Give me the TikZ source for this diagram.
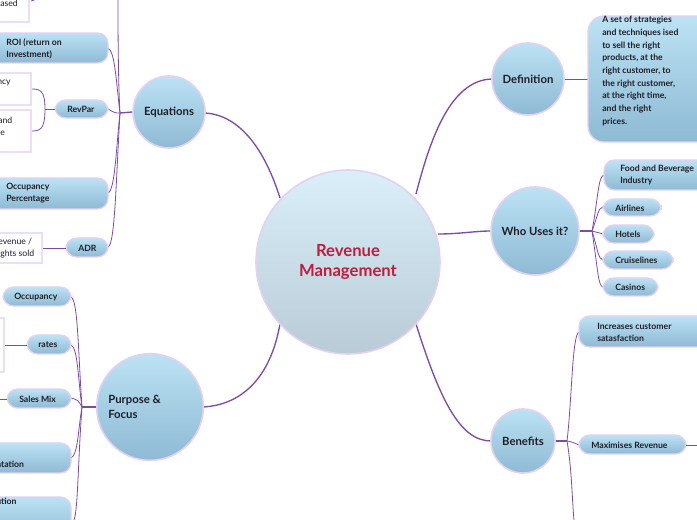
\documentclass[tikz,border=0pt]{standalone}
\usepackage{fontspec}
\setmainfont{Lato}
\definecolor{ctop}{RGB}{188,226,244}
\definecolor{cbot}{RGB}{142,186,212}
\definecolor{cbd}{RGB}{228,208,242}
\definecolor{cln}{RGB}{125,75,165}
\definecolor{ctx}{RGB}{30,30,40}
\definecolor{cred}{RGB}{190,30,60}
\tikzset{
 bub/.style={circle,draw=cbd,line width=1.2pt,top color=ctop,bottom color=cbot,text=ctx,font=\bfseries\fontsize{8.5}{10}\selectfont},
 pill/.style={rounded corners=8pt,draw=cbd,line width=1pt,top color=ctop,bottom color=cbot,text=ctx,font=\bfseries\fontsize{6.5}{9}\selectfont,align=left},
 wbox/.style={draw=cbd!70!white,line width=0.8pt,fill=white,text=ctx,font=\fontsize{6.5}{9}\selectfont,align=left},
 ln/.style={draw=cln,line width=0.6pt},
 lnb/.style={draw=cln,line width=1pt},
 txt/.style={text=ctx,font=\bfseries\fontsize{6.5}{9}\selectfont,align=left,anchor=west,inner sep=0}
}
\begin{document}
\begin{tikzpicture}[x=0.75pt,y=-0.75pt]
\useasboundingbox (0,0) rectangle (697,520);
\clip (0,0) rectangle (697,520);
% connectors from centre
\coordinate (c) at (348,262);
\draw[lnb] (c)++(-68,-64) .. controls (265,150) and (240,115) .. (205,113);
\draw[lnb] (c)++(68,-68) .. controls (430,140) and (450,80) .. (492,79);
\draw[lnb] (c)++(90,-28) .. controls (460,234) and (475,231) .. (491,231);
\draw[lnb] (c)++(-68,62) .. controls (270,380) and (240,405) .. (203,407);
\draw[lnb] (c)++(68,62) .. controls (440,400) and (460,441) .. (491,441);
% circles
\node[circle,draw=cbd,line width=1.2pt,top color=ctop!55!white,bottom color=gray!30!cbot!60!white,minimum size=184pt*0.75,font=\bfseries\fontsize{12.5}{15}\selectfont,text=cred,align=center] (rm) at (348,262) {Revenue\\Management};
\node[bub,minimum size=54pt] (eq) at (169,112) {Equations};
\node[bub,minimum size=54pt] (def) at (528,79) {Definition};
\node[bub,minimum size=66pt] (who) at (535,231) {Who Uses it?};
\node[bub,minimum size=80pt] (pur) at (150,407) {};
\node[txt,font=\bfseries\fontsize{8.5}{11}\selectfont] (purt) at (108,407) {Purpose \&\\Focus};
\node[bub,minimum size=48pt] (ben) at (523,441) {Benefits};
% Equations branch
\coordinate (ej) at (120,113);
\draw[lnb] (eq.west) -- (ej);
\draw[ln] (ej) .. controls (118,80) and (118,20) .. (118,0);
\draw[ln] (ej) .. controls (116,80) and (115,52) .. (108,48);
\draw[ln] (ej) .. controls (115,113) .. (108,109);
\draw[ln] (ej) .. controls (116,150) and (115,190) .. (108,193);
\draw[ln] (ej) .. controls (116,180) and (115,245) .. (108,247);
\draw[ln] (31,1) .. controls (35,0) .. (37,-5);
\draw[pill] (-20,33) rectangle (108,63);
\node[txt] (roi) at (6,49) {ROI (return on\\Investment)};
\draw[pill] (55,100) rectangle (108,118);
\node[txt] (rp) at (67,109) {RevPar};
\draw[ln] (55,109) -- (45,109);
\draw[ln] (45,109) .. controls (45,90) and (40,89) .. (31,89);
\draw[ln] (45,109) .. controls (45,130) and (40,131) .. (31,131);
\draw[wbox] (-10,-10) rectangle (29,22);
\node[txt,font=\fontsize{6.5}{9}\selectfont] (a1) at (0,3) {ased};
\draw[wbox] (-20,73) rectangle (31,105);
\node[txt,font=\fontsize{6.5}{9}\selectfont] (a2) at (-3,83) {ncy};
\draw[wbox] (-20,110) rectangle (31,152);
\node[txt,font=\fontsize{6.5}{9}\selectfont] (a3) at (-2,126) {and\\le};
\draw[pill] (-20,178) rectangle (108,209);
\node[txt] (occp) at (6,193) {Occupancy\\Percentage};
\draw[pill] (66,238) rectangle (108,257);
\node[txt] (adr) at (78,248) {ADR};
\draw[ln] (66,248) -- (42,248);
\draw[wbox] (-20,233) rectangle (42,263);
\node[txt,font=\fontsize{6.5}{9}\selectfont] (a4) at (-2,248) {evenue /\\ights sold};
% Purpose branch
\coordinate (pj) at (82,407);
\draw[lnb] (pur.west) -- (pj);
\draw[ln] (pj) .. controls (78,350) and (78,300) .. (71,297);
\draw[ln] (pj) .. controls (78,380) and (78,348) .. (71,345);
\draw[ln] (pj) .. controls (78,400) .. (71,398);
\draw[ln] (pj) .. controls (78,430) and (78,455) .. (71,458);
\draw[ln] (pj) .. controls (78,460) and (78,510) .. (74,520);
\draw[pill] (3,287) rectangle (71,306);
\node[txt] (o) at (14,297) {Occupancy};
\draw[pill] (27,335) rectangle (71,354);
\node[txt] (r) at (38,345) {rates};
\draw[ln] (27,345) -- (4,345);
\draw[wbox] (-20,318) rectangle (4,372);
\draw[pill] (7,389) rectangle (71,408);
\node[txt] (s) at (19,399) {Sales Mix};
\draw[ln] (7,399) -- (0,399);
\draw[pill] (-20,443) rectangle (71,473);
\node[txt] (seg) at (-4,464) {ntation};
\draw[pill] (-20,497) rectangle (71,540);
\node[txt] (dis) at (-4,507) {ution\\l};
% Definition branch
\draw[ln] (def.east) -- (588,79);
\draw[pill,rounded corners=12pt] (588,16) rectangle (720,142);
\node[txt,font=\bfseries\fontsize{6.5}{9.5}\selectfont] (dt) at (602,71) {A set of strategies\\and techniques ised\\to sell the right\\products, at the\\right customer,  to\\the right customer,\\at the right time,\\and the right\\prices.};
% Who branch
\coordinate (wj) at (592,231);
\draw[lnb] (who.east) -- (wj);
\draw[ln] (wj) .. controls (598,200) and (598,176) .. (604,175);
\draw[ln] (wj) .. controls (598,215) and (598,208) .. (603,207);
\draw[ln] (wj) .. controls (598,233) .. (603,234);
\draw[ln] (wj) .. controls (598,250) and (598,259) .. (603,260);
\draw[ln] (wj) .. controls (598,270) and (598,286) .. (603,287);
\draw[pill] (604,160) rectangle (720,190);
\node[txt] (f) at (620,175) {Food and Beverage\\Industry};
\draw[pill] (603,199) rectangle (661,216);
\node[txt] (al) at (615,208) {Airlines};
\draw[pill] (603,225) rectangle (654,243);
\node[txt] (h) at (615,234) {Hotels};
\draw[pill] (603,251) rectangle (673,269);
\node[txt] (cr) at (615,260) {Cruiselines};
\draw[pill] (603,278) rectangle (658,296);
\node[txt] (ca) at (615,287) {Casinos};
% Benefits branch
\coordinate (bj) at (567,441);
\draw[lnb] (ben.east) -- (bj);
\draw[ln] (bj) .. controls (572,400) and (572,335) .. (579,332);
\draw[ln] (bj) .. controls (572,442) .. (579,445);
\draw[ln] (bj) .. controls (572,470) and (572,500) .. (574,520);
\draw[pill] (579,316) rectangle (720,347);
\node[txt] (inc) at (597,332) {Increases customer\\satasfaction};
\draw[pill] (579,435) rectangle (686,454);
\node[txt] (max) at (591,445) {Maximises Revenue};
\draw[ln] (686,445) -- (697,445);
\end{tikzpicture}
\end{document}
